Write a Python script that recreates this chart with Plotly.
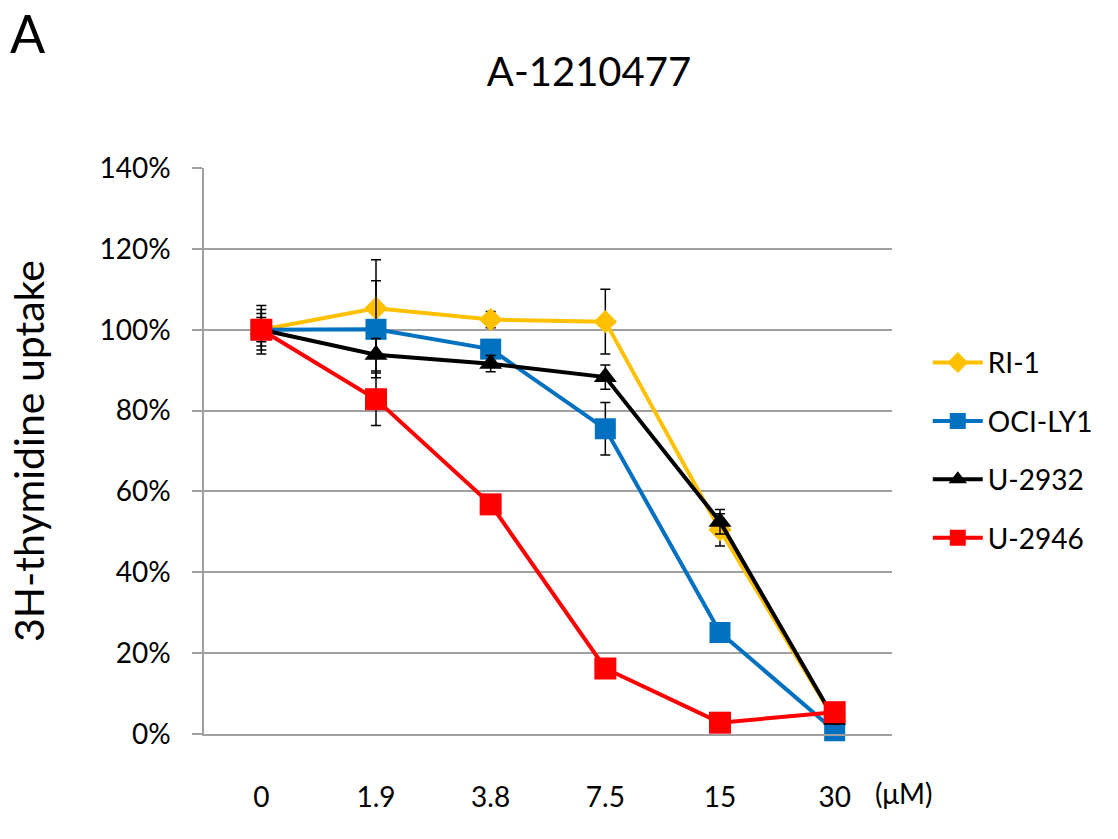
import plotly.graph_objects as go

# ---- data ----
doses = ["0", "1.9", "3.8", "7.5", "15", "30"]
ri1 = [100, 105.3, 102.5, 102.0, 50.5, 3.5]
ri1_err = [3, 12, 2, 8, 4, 1]
ocily1 = [100, 100.1, 95.2, 75.5, 25.1, 0.8]
ocily1_err = [4, 12, 2, 6.5, 1.5, 1]
u2932 = [100, 93.8, 91.6, 88.3, 52.5, 3.5]
u2932_err = [5, 4, 2, 3, 3, 1]
u2946 = [100, 82.8, 56.8, 16.2, 2.8, 5.4]
u2946_err = [6, 6.5, 1.5, 1, 0.5, 1]
y_ticks = [0, 20, 40, 60, 80, 100, 120, 140]
y_ticktext = [f"{v}%" for v in y_ticks]

FONT = "Lato, 'Open Sans', sans-serif"

series = [
    ("RI-1", ri1, ri1_err, "#FFC000", "diamond", 18),
    ("OCI-LY1", ocily1, ocily1_err, "#0070C0", "square", 21),
    ("U-2932", u2932, u2932_err, "#000000", "triangle-up", 20),
    ("U-2946", u2946, u2946_err, "#FF0000", "square", 22),
]

fig = go.Figure()
for name, vals, errs, color, sym, size in series:
    fig.add_trace(go.Scatter(
        x=doses, y=vals, name=name, mode="lines+markers",
        legendgroup=name,
        line=dict(color=color, width=4),
        marker=dict(symbol=sym, size=size, color=color, line=dict(width=0)),
        error_y=dict(type="data", array=errs, visible=True,
                     color="#000000", thickness=1.5, width=5),
        cliponaxis=False,
    ))

fig.update_layout(
    width=1118, height=839,
    margin=dict(l=204, r=226, t=168, b=105),
    paper_bgcolor="white", plot_bgcolor="white",
    font=dict(family=FONT, color="#000000", size=28),
    title=dict(text="A-1210477", x=589 / 1118, xref="container", xanchor="center",
               y=1 - 72 / 839, yref="container", yanchor="middle",
               font=dict(size=40, family=FONT)),
    showlegend=True,
    legend=dict(x=1.052, xanchor="left", y=0.70, yanchor="top",
                font=dict(size=28, family=FONT), tracegroupgap=19,
                itemwidth=50, bgcolor="rgba(0,0,0,0)"),
)

fig.update_xaxes(
    type="category", categoryorder="array", categoryarray=doses,
    range=[-0.5, 5.5], showgrid=False, zeroline=False,
    showline=True, linecolor="#A0A0A0", linewidth=1.5,
    ticks="", ticklabelstandoff=38, tickfont=dict(size=28),
)
fig.update_yaxes(
    range=[0, 140], tickvals=y_ticks, ticktext=y_ticktext,
    showgrid=True, gridcolor="#A0A0A0", gridwidth=1.5,
    zeroline=False, showline=True, linecolor="#A0A0A0", linewidth=1.5,
    ticks="outside", ticklen=10, tickcolor="#A0A0A0", tickwidth=1.5,
    ticklabelstandoff=16, tickfont=dict(size=28),
)

fig.add_annotation(text="(μM)", xref="x", yref="paper", x=len(doses) - 1, y=0,
                   xanchor="left", yanchor="top", xshift=38, yshift=-40,
                   showarrow=False, font=dict(size=28, family=FONT))
fig.add_annotation(text="3H-thymidine uptake", xref="paper", yref="paper",
                   x=(28 - 204) / 688, y=0.5, xanchor="center", yanchor="middle",
                   textangle=-90, showarrow=False, font=dict(size=41, family=FONT))
fig.add_annotation(text="A", xref="paper", yref="paper",
                   x=(8 - 204) / 688, y=1 - (33 - 168) / 566, xanchor="left",
                   yanchor="middle", showarrow=False, font=dict(size=52, family=FONT))

fig.write_html("out.html")
